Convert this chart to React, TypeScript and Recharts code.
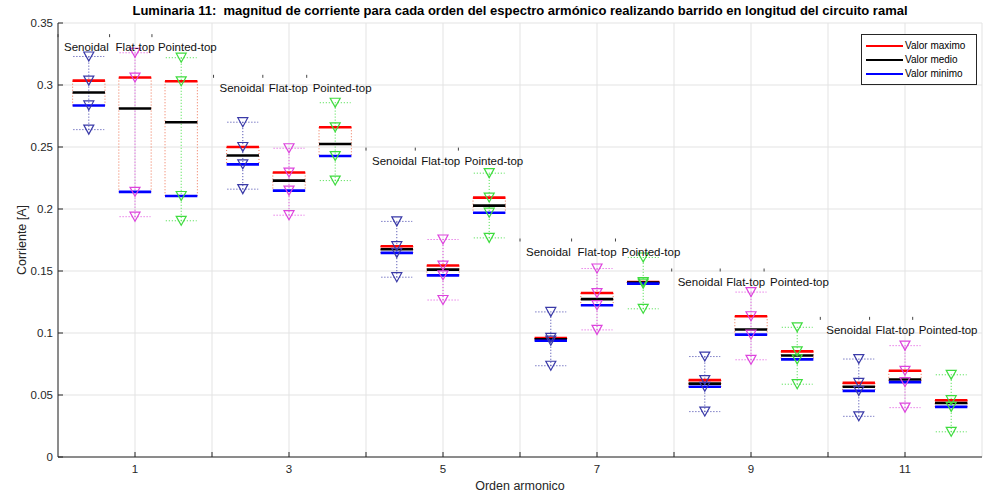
import React from "react";
import { ScatterChart, Scatter, XAxis, YAxis, CartesianGrid, ReferenceLine, Legend } from "recharts";

// harmonic orders on the x axis
const orders = [1, 3, 5, 7, 9, 11];
const waveforms = ["Senoidal", "Flat-top", "Pointed-top"];
const waveOffsets = [-0.6, 0, 0.6];
const waveColors = ["#3a3aa8", "#dd44dd", "#3fdc3f"];

// Senoidal
const senoidalUpper = [0.323, 0.27, 0.19, 0.117, 0.081, 0.079];
const senoidalMax = [0.3035, 0.25, 0.17, 0.096, 0.062, 0.0598];
const senoidalMean = [0.294, 0.2432, 0.1676, 0.0949, 0.0592, 0.0566];
const senoidalMin = [0.2835, 0.236, 0.1646, 0.0938, 0.0566, 0.0533];
const senoidalLower = [0.264, 0.216, 0.145, 0.0736, 0.0366, 0.0328];

// Flat-top
const flatUpper = [0.326, 0.249, 0.1754, 0.152, 0.133, 0.0898];
const flatMax = [0.306, 0.2294, 0.1544, 0.1322, 0.1135, 0.0695];
const flatMean = [0.281, 0.2229, 0.1511, 0.1273, 0.1028, 0.0625];
const flatMin = [0.2138, 0.2148, 0.1465, 0.1224, 0.0987, 0.0604];
const flatLower = [0.1938, 0.195, 0.1266, 0.1025, 0.0784, 0.0398];

// Pointed-top
const pointedUpper = [0.322, 0.2857, 0.2289, 0.1609, 0.1046, 0.0663];
const pointedMax = [0.303, 0.2659, 0.2092, 0.1411, 0.0852, 0.0458];
const pointedMean = [0.27, 0.2524, 0.2027, 0.1406, 0.0819, 0.0436];
const pointedMin = [0.2105, 0.2427, 0.197, 0.1398, 0.0787, 0.0404];
const pointedLower = [0.1905, 0.2229, 0.1767, 0.1195, 0.0587, 0.0203];

// where the "Senoidal / Flat-top / Pointed-top" annotations sit (offset from the order)
const labelY = [0.3398, 0.307, 0.2483, 0.175, 0.1508, 0.1118];
const senoidalLabelDx = [-1.0, -0.98, -1.0, -1.0, -1.03, -1.1];
const flatLabelDx = [-0.33, -0.34, -0.36, -0.33, -0.4, -0.46];
const pointedLabelDx = [0.22, 0.23, 0.2, 0.24, 0.17, 0.1];

const xTicks = [0, 1, 2, 3, 4, 5, 6, 7, 8, 9, 10, 11, 12];
const yTicks = [0, 0.05, 0.1, 0.15, 0.2, 0.25, 0.3, 0.35];

const legendItems = [
  { label: "Valor maximo", color: "#ff0000" },
  { label: "Valor medio", color: "#000000" },
  { label: "Valor minimo", color: "#0000ff" },
];

const FONT = "'Liberation Sans', Arial, sans-serif";
const HALF = 0.21;

const series = [
  { upper: senoidalUpper, max: senoidalMax, mean: senoidalMean, min: senoidalMin, lower: senoidalLower, dx: senoidalLabelDx },
  { upper: flatUpper, max: flatMax, mean: flatMean, min: flatMin, lower: flatLower, dx: flatLabelDx },
  { upper: pointedUpper, max: pointedMax, mean: pointedMean, min: pointedMin, lower: pointedLower, dx: pointedLabelDx },
];

function seg(x1: number, y1: number, x2: number, y2: number) {
  return [
    { x: x1, y: y1 },
    { x: x2, y: y2 },
  ];
}

// dotted parts first, solid bars after
const dottedLines: any[] = [];
const barLines: any[] = [];
series.forEach((s, w) => {
  orders.forEach((h, i) => {
    const cx = h + waveOffsets[w];
    const c = waveColors[w];
    dottedLines.push({ segment: seg(cx - HALF, s.max[i], cx - HALF, s.min[i]), color: "#ee7050" });
    dottedLines.push({ segment: seg(cx + HALF, s.max[i], cx + HALF, s.min[i]), color: "#ee7050" });
    dottedLines.push({ segment: seg(cx, s.lower[i], cx, s.upper[i]), color: c });
    dottedLines.push({ segment: seg(cx - 0.2, s.upper[i], cx + 0.2, s.upper[i]), color: c });
    dottedLines.push({ segment: seg(cx - 0.2, s.lower[i], cx + 0.2, s.lower[i]), color: c });
    barLines.push({ segment: seg(cx - HALF, s.max[i], cx + HALF, s.max[i]), color: "#ff0000" });
    barLines.push({ segment: seg(cx - HALF, s.mean[i], cx + HALF, s.mean[i]), color: "#000000" });
    barLines.push({ segment: seg(cx - HALF, s.min[i], cx + HALF, s.min[i]), color: "#0000ff" });
  });
});

const markerData = series.map((s, w) =>
  orders.flatMap((h, i) => {
    const x = h + waveOffsets[w];
    return [
      { x, y: s.upper[i] },
      { x, y: s.max[i] },
      { x, y: s.min[i] },
      { x, y: s.lower[i] },
    ];
  })
);

const labelData = orders.flatMap((h, i) =>
  waveforms.map((name, w) => ({ x: h + series[w].dx[i], y: labelY[i], name }))
);

const triangle = (color: string) => (props: any) => {
  const { cx, cy } = props;
  return (
    <path
      d={`M${cx - 5},${cy - 4.5} L${cx + 5},${cy - 4.5} L${cx},${cy + 4.5} Z`}
      fill="none"
      stroke={color}
      strokeWidth={1.2}
    />
  );
};

const annotation = (props: any) => {
  const { cx, cy, payload } = props;
  return (
    <g>
      <line x1={cx} x2={cx} y1={cy - 1.5} y2={cy + 1.5} stroke="#444" strokeWidth={1} />
      <text x={cx + 6} y={cy + 11.5} dominantBaseline="central" fontSize={11.5} fontFamily={FONT} fill="#111">
        {payload.name}
      </text>
    </g>
  );
};

const XTick = (props: any) => {
  const { x, y, payload } = props;
  const v = payload.value;
  return (
    <g>
      {v > 0 && v < 12 && <line x1={x} x2={x} y1={y} y2={y - 5} stroke="#262626" />}
      {v % 2 === 1 && (
        <text x={x} y={y + 12} textAnchor="middle" dominantBaseline="central" fontSize={11.5} fontFamily={FONT} fill="#262626">
          {v}
        </text>
      )}
    </g>
  );
};

const YTick = (props: any) => {
  const { x, y, payload } = props;
  const v = payload.value;
  return (
    <g>
      <line x1={x} x2={x + 5} y1={y} y2={y} stroke="#262626" />
      <text x={x - 5} y={y} textAnchor="end" dominantBaseline="central" fontSize={11.5} fontFamily={FONT} fill="#262626">
        {String(parseFloat(v.toFixed(2)))}
      </text>
    </g>
  );
};

const LegendBox = () => (
  <div
    style={{
      border: "1px solid #262626",
      background: "#fff",
      padding: "4px 4px 3px 4px",
      fontFamily: FONT,
      fontSize: 10,
      lineHeight: "14px",
      color: "#000",
      textAlign: "left",
    }}>
    {legendItems.map((it) => (
      <div key={it.label} style={{ display: "flex", alignItems: "center" }}>
        <span style={{ display: "inline-block", width: 37, height: 2, background: it.color, marginRight: 2 }} />
        {it.label}
      </div>
    ))}
  </div>
);

export default function App() {
  return (
    <div style={{ position: "absolute", left: 0, top: 0, width: 985, height: 499, background: "#fff" }}>
      <div
        style={{
          position: "absolute",
          left: 58,
          width: 924,
          top: 3,
          textAlign: "center",
          fontFamily: FONT,
          fontWeight: "bold",
          fontSize: 13,
          color: "#000",
          whiteSpace: "nowrap",
        }}>
        Luminaria 11:&nbsp; magnitud de corriente para cada orden del espectro armónico realizando barrido en longitud del circuito ramal
      </div>
      <div
        style={{
          position: "absolute",
          left: 22,
          top: 240,
          transform: "translate(-50%, -50%) rotate(-90deg)",
          whiteSpace: "nowrap",
          fontFamily: FONT,
          fontSize: 12.5,
          color: "#262626",
        }}>
        Corriente [A]
      </div>
      <div
        style={{
          position: "absolute",
          left: 58,
          width: 924,
          top: 479,
          textAlign: "center",
          fontFamily: FONT,
          fontSize: 12.5,
          color: "#262626",
        }}>
        Orden armonico
      </div>
      <ScatterChart width={985} height={499} margin={{ top: 23, right: 3, bottom: 12, left: 0 }}>
        <CartesianGrid stroke="#e3e3e3" />
        <XAxis
          dataKey="x"
          type="number"
          domain={[0, 12]}
          ticks={xTicks}
          interval={0}
          height={30}
          tickLine={false}
          tickSize={0}
          tickMargin={0}
          tick={<XTick />}
          axisLine={{ stroke: "#262626" }}
        />
        <YAxis
          dataKey="y"
          type="number"
          domain={[0, 0.35]}
          ticks={yTicks}
          interval={0}
          width={58}
          tickLine={false}
          tickSize={0}
          tickMargin={0}
          tick={<YTick />}
          axisLine={{ stroke: "#262626" }}
        />
        {dottedLines.map((l, k) => (
          <ReferenceLine key={"d" + k} segment={l.segment} stroke={l.color} strokeWidth={1} strokeDasharray="1 2" />
        ))}
        {barLines.map((l, k) => (
          <ReferenceLine key={"b" + k} segment={l.segment} stroke={l.color} strokeWidth={2.6} />
        ))}
        {markerData.map((d, w) => (
          <Scatter key={waveforms[w]} name={waveforms[w]} data={d} shape={triangle(waveColors[w])} isAnimationActive={false} />
        ))}
        <Scatter name="labels" data={labelData} shape={annotation} isAnimationActive={false} />
        <Legend
          layout="vertical"
          align="center"
          verticalAlign="middle"
          content={<LegendBox />}
          wrapperStyle={{ position: "absolute", left: 861, top: 34, width: 116, height: "auto", margin: 0 }}
        />
      </ScatterChart>
    </div>
  );
}
